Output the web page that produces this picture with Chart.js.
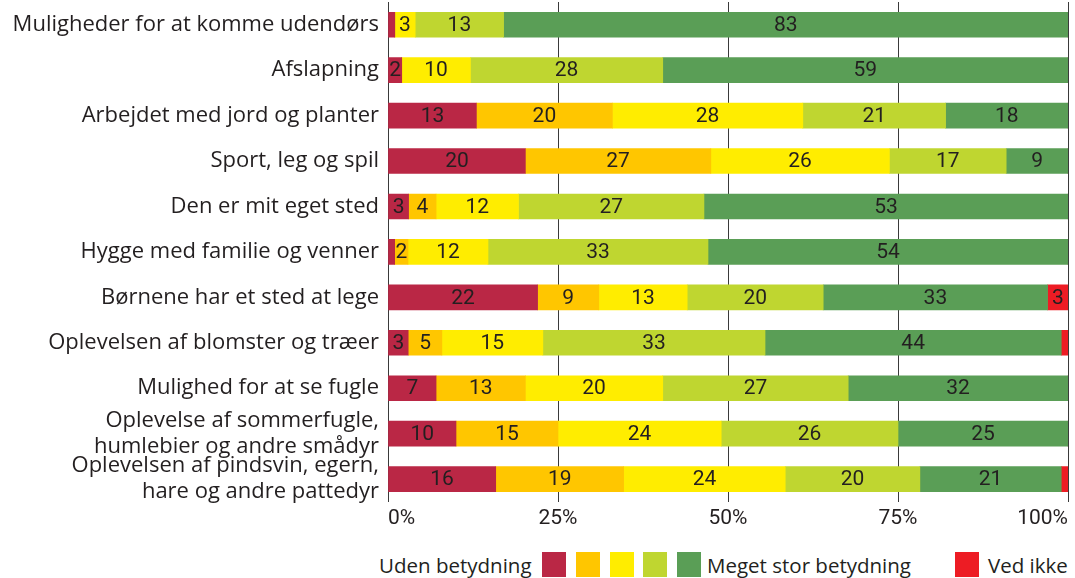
<!DOCTYPE html>
<html>
<head>
<meta charset="utf-8">
<script src="https://cdn.jsdelivr.net/npm/chart.js@4"></script>
<style>
  html, body { margin: 0; padding: 0; background: #fff; }
  #ramme { position: relative; width: 1075px; height: 578px; font-family: "Open Sans", sans-serif; color: #231F20; }
  #diagram { position: absolute; left: 0; top: 0; width: 1075px; height: 535px; }
  #forklaring { position: absolute; left: 0; top: 552px; width: 1075px; height: 26px; font-size: 20.5px; }
  #forklaring span { position: absolute; top: 0; line-height: 26px; white-space: nowrap; }
  #forklaring i { position: absolute; top: 0; width: 24px; height: 25px; }
</style>
</head>
<body>
<div id="ramme">
  <div id="diagram"><canvas id="graf"></canvas></div>
  <div id="forklaring">
    <span style="left:379px">Uden betydning</span>
    <i style="left:542px;background:#BA2745"></i>
    <i style="left:576px;background:#FFC600"></i>
    <i style="left:610px;background:#FFED00"></i>
    <i style="left:643px;background:#BFD630"></i>
    <i style="left:677px;background:#5A9E56"></i>
    <span style="left:707px">Meget stor betydning</span>
    <i style="left:955px;background:#ED1C24"></i>
    <span style="left:988px">Ved ikke</span>
  </div>
</div>
<script>
/* ---------------- data ---------------- */

const kategorier = [
  'Muligheder for at komme udendørs',
  'Afslapning',
  'Arbejdet med jord og planter',
  'Sport, leg og spil',
  'Den er mit eget sted',
  'Hygge med familie og venner',
  'Børnene har et sted at lege',
  'Oplevelsen af blomster og træer',
  'Mulighed for at se fugle',
  ['Oplevelse af sommerfugle,', 'humlebier og andre smådyr'],
  ['Oplevelsen af pindsvin, egern,', 'hare og andre pattedyr']
];

const udenBetydning = [1, 2, 13, 20, 3, 1, 22, 3, 7, 10, 16];
const lilleBetydning = [0, 0, 20, 27, 4, 2, 9, 5, 13, 15, 19];
const nogenBetydning = [3, 10, 28, 26, 12, 12, 13, 15, 20, 24, 24];
const storBetydning = [13, 28, 21, 17, 27, 33, 20, 33, 27, 26, 20];
const megetStorBetydning = [83, 59, 18, 9, 53, 54, 33, 44, 32, 25, 21];
const vedIkke = [0, 0, 0, 0, 0, 0, 3, 1, 0, 0, 1];

const xTicks = [0, 25, 50, 75, 100];

const serier = [
  { navn: 'Uden betydning', data: udenBetydning, farve: '#BA2745' },
  { navn: '2', data: lilleBetydning, farve: '#FFC600' },
  { navn: '3', data: nogenBetydning, farve: '#FFED00' },
  { navn: '4', data: storBetydning, farve: '#BFD630' },
  { navn: 'Meget stor betydning', data: megetStorBetydning, farve: '#5A9E56' },
  { navn: 'Ved ikke', data: vedIkke, farve: '#ED1C24' }
];

// rækkerne summer ikke altid til præcis 100 pga. afrunding -> skaleres
const totaler = kategorier.map((_, i) =>
  serier.reduce((sum, s) => sum + s.data[i], 0));

const skrift = '"Open Sans", sans-serif';
const talSkrift = 'Roboto, sans-serif';

/* ---------------- værdier i søjlerne ---------------- */

const vaerdiEtiketter = {
  id: 'vaerdiEtiketter',
  afterDatasetsDraw(chart) {
    const ctx = chart.ctx;
    ctx.save();
    ctx.font = '21px ' + talSkrift;
    ctx.fillStyle = '#231F20';
    ctx.textAlign = 'center';
    ctx.textBaseline = 'middle';
    chart.data.datasets.forEach((ds, d) => {
      chart.getDatasetMeta(d).data.forEach((bar, i) => {
        const raa = ds.raa[i];
        if (raa < 2) return;
        const midt = (bar.x + bar.base) / 2;
        ctx.fillText(raa, midt, bar.y + 1);
      });
    });
    ctx.restore();
  }
};

/* ---------------- graf ---------------- */

new Chart(document.getElementById('graf'), {
  type: 'bar',
  data: {
    labels: kategorier,
    datasets: serier.map(s => ({
      label: s.navn,
      data: s.data.map((v, i) => v * 100 / totaler[i]),
      raa: s.data,
      backgroundColor: s.farve,
      borderWidth: 0,
      barThickness: 25
    }))
  },
  options: {
    indexAxis: 'y',
    responsive: true,
    maintainAspectRatio: false,
    animation: false,
    layout: { padding: { top: 2, right: 7, left: 0, bottom: 0 } },
    plugins: {
      legend: { display: false },
      tooltip: { enabled: false }
    },
    scales: {
      x: {
        stacked: true,
        min: 0,
        max: 100,
        afterBuildTicks: akse => { akse.ticks = xTicks.map(v => ({ value: v })); },
        ticks: {
          align: 'inner',
          color: '#231F20',
          padding: 4,
          font: { family: talSkrift, size: 21 },
          callback: v => v + '%'
        },
        grid: { color: '#3a3a3a', lineWidth: 1, drawTicks: false },
        border: { display: false }
      },
      y: {
        stacked: true,
        afterFit: akse => {
          akse.width = 388;
          akse.paddingTop = 0;
          akse.paddingBottom = 0;
        },
        ticks: {
          autoSkip: false,
          color: '#231F20',
          padding: 9,
          font: { family: skrift, size: 22, lineHeight: 1.18 }
        },
        grid: { display: false, drawTicks: false },
        border: { display: true, color: '#3a3a3a', width: 1 }
      }
    }
  },
  plugins: [vaerdiEtiketter]
});
</script>
</body>
</html>
